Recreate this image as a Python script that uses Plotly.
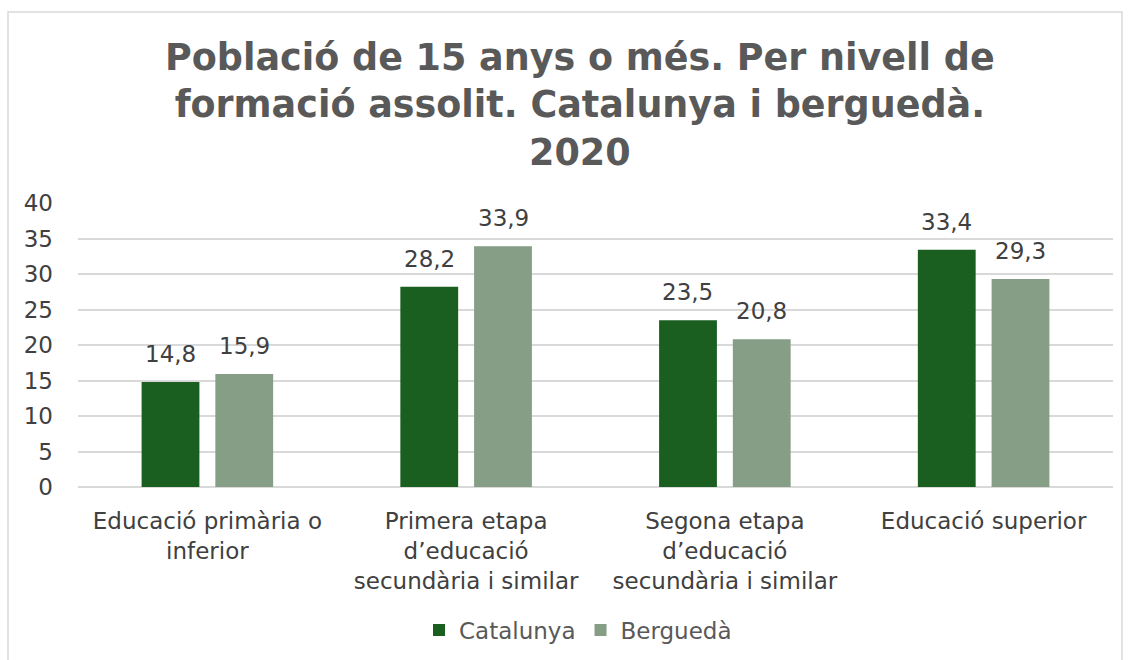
import plotly.graph_objects as go

categories = [
    "Educació primària o<br>inferior",
    "Primera etapa<br>d’educació<br>secundària i similar",
    "Segona etapa<br>d’educació<br>secundària i similar",
    "Educació superior",
]
catalunya = [14.8, 28.2, 23.5, 33.4]
bergueda = [15.9, 33.9, 20.8, 29.3]
series_names = ["Catalunya", "Berguedà"]
title_text = "Població de 15 anys o més. Per nivell de<br>formació assolit. Catalunya i berguedà.<br>2020"

FONT = "DejaVu Sans"
TXT = "#404040"
FS = 23

def fmt(v):
    return f"{v:.1f}".replace(".", ",")

fig = go.Figure()
fig.add_trace(go.Bar(
    x=categories, y=catalunya, name=series_names[0],
    marker=dict(color="#1A5E20", line=dict(width=0)),
))
fig.add_trace(go.Bar(
    x=categories, y=bergueda, name=series_names[1],
    marker=dict(color="#869D86", line=dict(width=0)),
))

L, R, T, B = 78, 18, 203, 173
W, H = 1131, 660
pw, ph = W - L - R, H - T - B

def px_x(x):
    return (x - L) / pw

def px_y(y):
    return (H - B - y) / ph

# value labels above the bars (offset to each bar of the group)
annotations = []
for vals, shift in ((catalunya, -37), (bergueda, 37)):
    for c, v in zip(categories, vals):
        annotations.append(dict(x=c, y=v, xref="x", yref="y", text=fmt(v), showarrow=False,
                                xshift=shift, yshift=28, yanchor="middle", xanchor="center",
                                font=dict(family=FONT, size=FS, color=TXT)))
annotations.append(dict(text=title_text, xref="paper", yref="paper", x=px_x(580), y=px_y(105),
                        xanchor="center", yanchor="middle", showarrow=False, align="center",
                        font=dict(family=FONT, size=36.5, color="#595959", weight="bold")))

fig.update_layout(
    width=W, height=H,
    margin=dict(l=L, r=R, t=T, b=B, autoexpand=False),
    paper_bgcolor="white", plot_bgcolor="white",
    barmode="group", bargap=0.43, bargroupgap=0.216,
    font=dict(family=FONT, size=FS, color=TXT),
    showlegend=True,
    legend=dict(orientation="h", x=px_x(578), xanchor="center", y=px_y(630), yanchor="middle",
                font=dict(family=FONT, size=FS, color="#595959"), itemwidth=30,
                traceorder="normal"),
    xaxis=dict(showline=False, ticks="", tickfont=dict(family=FONT, size=FS, color=TXT),
               tickangle=0, automargin=False, ticklabelstandoff=18),
    yaxis=dict(range=[0, 40], dtick=5, showgrid=True, gridcolor="#D9D9D9", gridwidth=1.5,
               zeroline=True, zerolinecolor="#D9D9D9", zerolinewidth=1.5, showline=False,
               ticks="", ticklabelstandoff=24, automargin=False,
               tickfont=dict(family=FONT, size=FS, color=TXT)),
    shapes=[dict(type="rect", xref="paper", yref="paper",
                 x0=px_x(8), x1=px_x(1122), y0=px_y(668), y1=px_y(12),
                 line=dict(color="#D9D9D9", width=1.5), fillcolor="rgba(0,0,0,0)", layer="below")],
    annotations=annotations,
)

fig.write_html("out.html", config={"displayModeBar": False},
               post_script="document.body.style.margin='0';document.body.style.overflow='hidden';")
